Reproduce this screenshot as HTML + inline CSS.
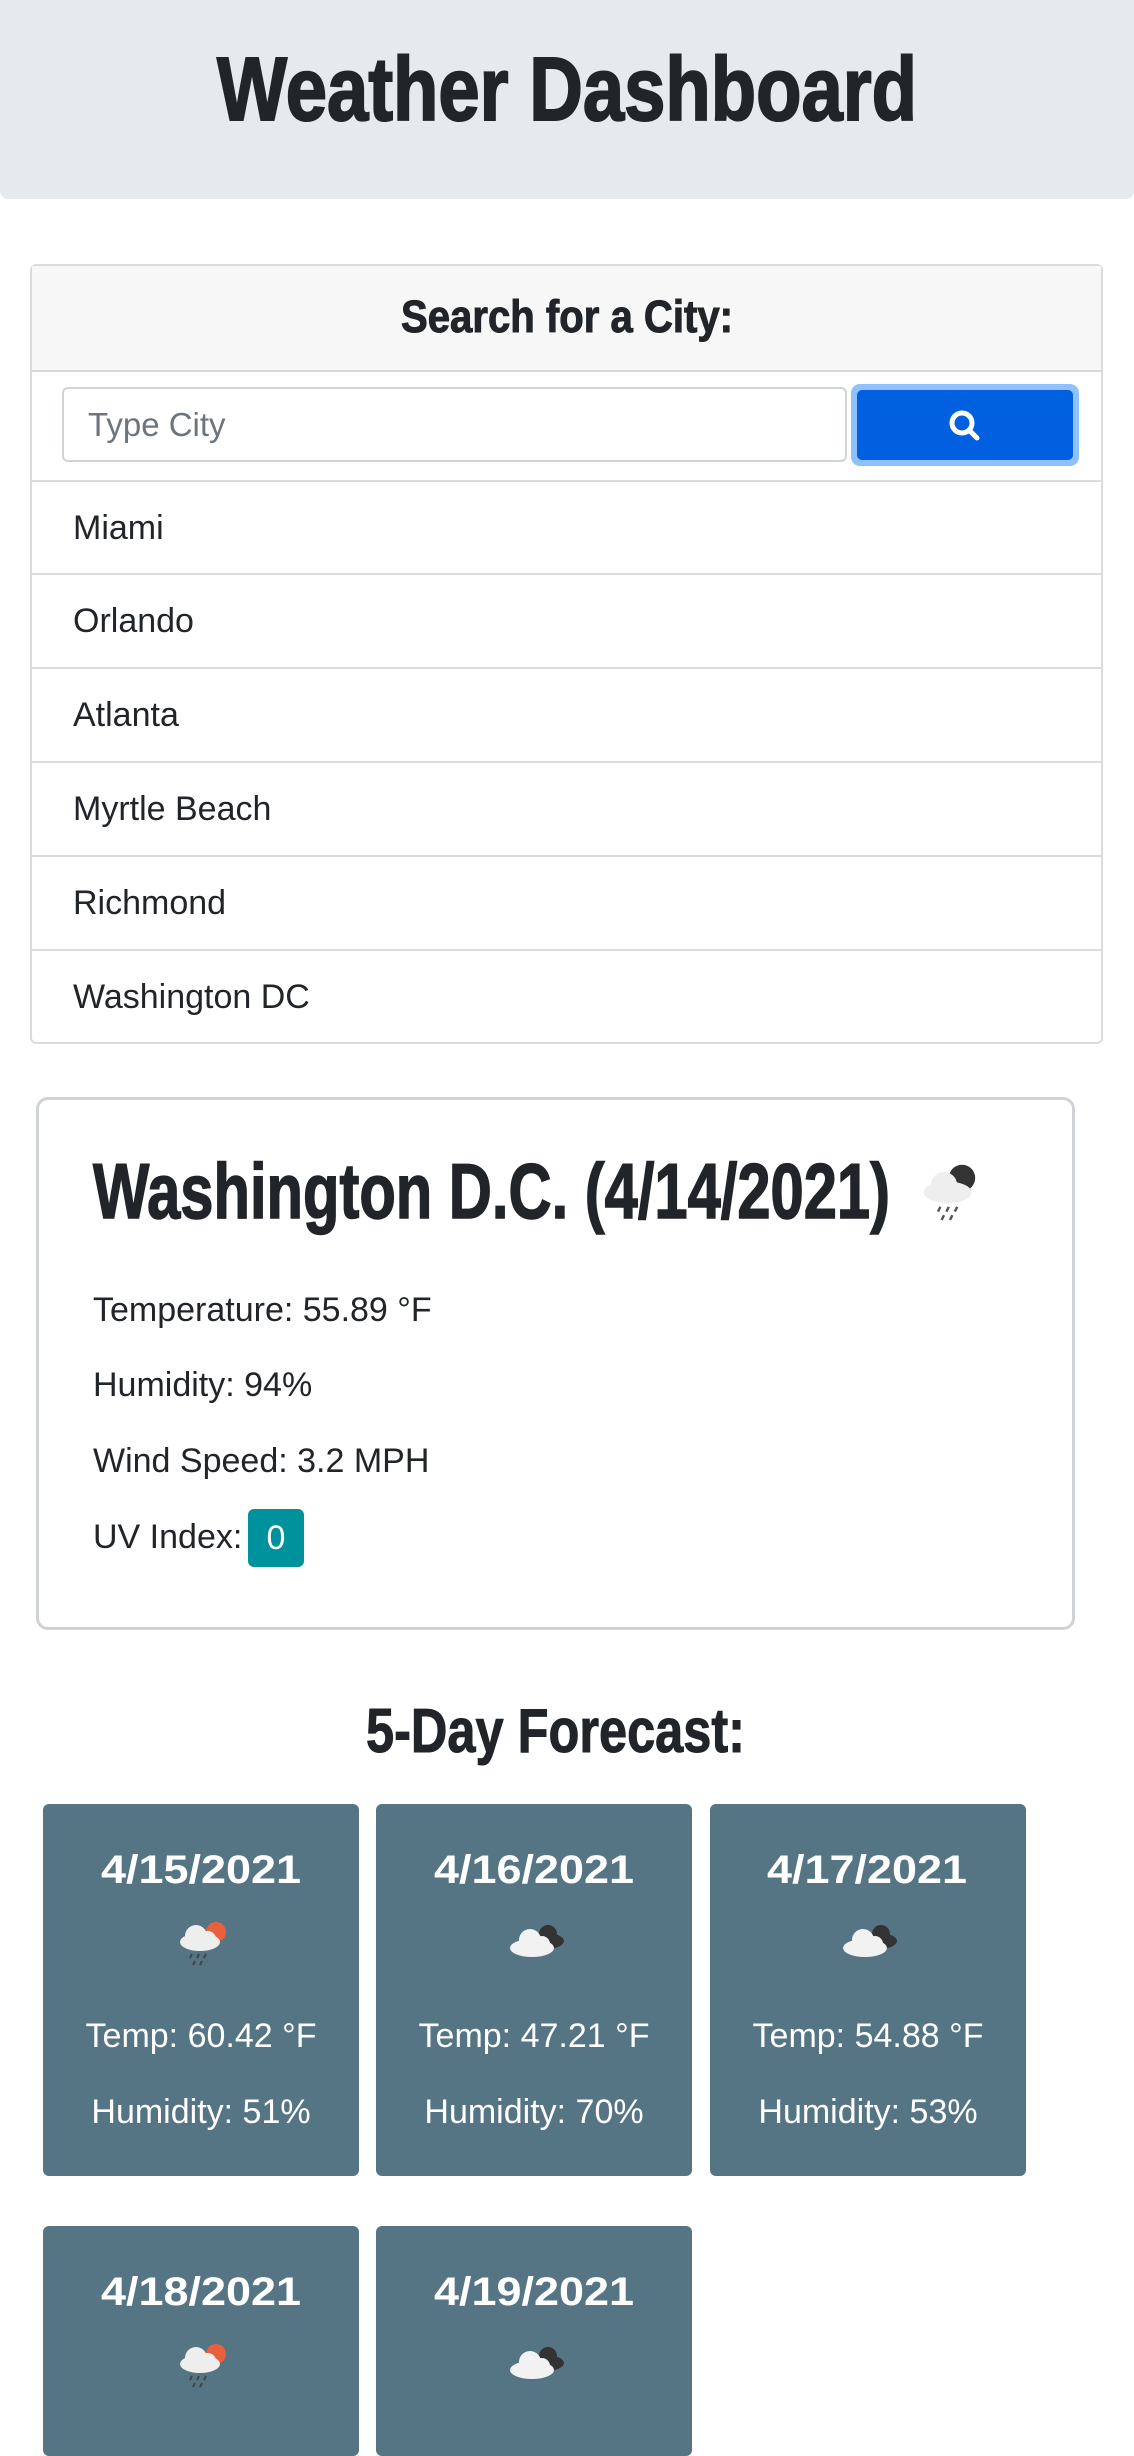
<!DOCTYPE html>
<html><head><meta charset="utf-8"><style>
body{margin:0;width:1134px;height:2434px;background:#fff;position:relative;overflow:hidden;font-family:"Liberation Sans",sans-serif;color:#212529}
.abs{position:absolute}
.li{position:absolute;left:31px;width:1071px;height:93px;border-top:2px solid #dcdcdc;font-size:34px;line-height:93px;padding-left:42px;box-sizing:border-box}
.txt{position:absolute;left:93px;font-size:34px}
.fc{position:absolute;background:#557585;border-radius:6px;width:316px}
.fc .t{position:absolute;left:0;width:100%;text-align:center;color:#fff;font-size:34px}
svg text{font-family:"Liberation Sans",sans-serif;font-weight:bold;fill:#212529}
</style></head><body>
<div class="abs" style="left:0;top:0;width:1134px;height:199px;background:#e6e9ed;border-radius:0 0 8px 8px"></div>
<svg class="abs" style="left:0;top:0" width="1134" height="2434">
<text x="217" y="120" font-size="90" textLength="700" lengthAdjust="spacingAndGlyphs" stroke="#212529" stroke-width="2">Weather Dashboard</text>
</svg>

<div class="abs" style="left:30px;top:264px;width:1073px;height:780px;border:2px solid #dcdcdc;border-radius:6px;box-sizing:border-box"></div>
<div class="abs" style="left:32px;top:266px;width:1069px;height:104px;background:#f7f7f7;border-bottom:2px solid #d8d8d8"></div>
<div class="abs" style="left:62px;top:387px;width:785px;height:75px;border:2px solid #ced4da;border-radius:6px;box-sizing:border-box;font-size:33px;color:#6c757d;line-height:71px;padding-left:24px">Type City</div>
<div class="abs" style="left:851px;top:384px;width:228px;height:82px;background:#8fc1ff;border-radius:9px"></div>
<div class="abs" style="left:857px;top:390px;width:216px;height:70px;background:#0060df;border-radius:5px">
<svg width="216" height="70"><circle cx="105" cy="33" r="10" fill="none" stroke="#fff" stroke-width="5"/><line x1="112" y1="40" x2="120" y2="48" stroke="#fff" stroke-width="5" stroke-linecap="round"/></svg></div>
<div class="li" style="top:480px">Miami</div>
<div class="li" style="top:573px">Orlando</div>
<div class="li" style="top:667px">Atlanta</div>
<div class="li" style="top:761px">Myrtle Beach</div>
<div class="li" style="top:855px">Richmond</div>
<div class="li" style="top:949px">Washington DC</div>

<div class="abs" style="left:36px;top:1097px;width:1039px;height:533px;border:3px solid #d0d3d6;border-radius:12px;box-sizing:border-box"></div>
<div class="txt" style="top:1291px">Temperature: 55.89 °F</div>
<div class="txt" style="top:1366px">Humidity: 94%</div>
<div class="txt" style="top:1442px">Wind Speed: 3.2 MPH</div>
<div class="txt" style="top:1518px">UV Index:</div>
<div class="abs" style="left:248px;top:1509px;width:56px;height:58px;background:#00929c;border-radius:6px;color:#fff;font-size:34px;text-align:center;line-height:58px">0</div>

<div class="fc" style="left:43px;top:1804px;height:372px"></div>
<div class="fc" style="left:376px;top:1804px;height:372px"></div>
<div class="fc" style="left:710px;top:1804px;height:372px"></div>
<div class="fc" style="left:43px;top:2226px;height:230px"></div>
<div class="fc" style="left:376px;top:2226px;height:230px"></div>

<div class="fc" style="left:43px;top:1804px;height:0;background:none">
<div class="t" style="top:213px">Temp: 60.42 °F</div>
<div class="t" style="top:289px">Humidity: 51%</div></div>
<div class="fc" style="left:376px;top:1804px;height:0;background:none">
<div class="t" style="top:213px">Temp: 47.21 °F</div>
<div class="t" style="top:289px">Humidity: 70%</div></div>
<div class="fc" style="left:710px;top:1804px;height:0;background:none">
<div class="t" style="top:213px">Temp: 54.88 °F</div>
<div class="t" style="top:289px">Humidity: 53%</div></div>

<svg class="abs" style="left:0;top:0" width="1134" height="2434">
<defs>
<g id="rainsun"><circle cx="16" cy="-8" r="10" fill="#e8613c"/><ellipse cx="0" cy="2" rx="20" ry="9" fill="#eee"/><circle cx="-4" cy="-4" r="11" fill="#eee"/><circle cx="8" cy="-1" r="8" fill="#eee"/><g stroke="#444" stroke-width="2"><line x1="-8" y1="14" x2="-10" y2="18"/><line x1="-1" y1="14" x2="-3" y2="18"/><line x1="6" y1="14" x2="4" y2="18"/><line x1="-5" y1="21" x2="-7" y2="25"/><line x1="2" y1="21" x2="0" y2="25"/></g></g>
<g id="clouds"><ellipse cx="10" cy="-3" rx="18" ry="8" fill="#333"/><circle cx="12" cy="-10" r="9" fill="#333"/><ellipse cx="-4" cy="4" rx="22" ry="9" fill="#f2f2f2"/><circle cx="-6" cy="-4" r="11" fill="#f2f2f2"/><circle cx="6" cy="0" r="8" fill="#f2f2f2"/></g>
</defs>
<text x="401" y="332" font-size="45" textLength="332" lengthAdjust="spacingAndGlyphs" stroke="#212529" stroke-width="1">Search for a City:</text>
<text x="93" y="1218" font-size="78" textLength="797" lengthAdjust="spacingAndGlyphs" stroke="#212529" stroke-width="1.5">Washington D.C. (4/14/2021)</text>
<g transform="translate(950,1190) scale(1.2)">
<circle cx="10" cy="-10" r="11" fill="#333"/><ellipse cx="-2" cy="2" rx="20" ry="9" fill="#eee"/><circle cx="-5" cy="-4" r="11" fill="#eee"/>
<g stroke="#555" stroke-width="2"><line x1="-8" y1="14" x2="-10" y2="18"/><line x1="-1" y1="14" x2="-3" y2="18"/><line x1="6" y1="14" x2="4" y2="18"/><line x1="-5" y1="21" x2="-7" y2="25"/><line x1="2" y1="21" x2="0" y2="25"/></g></g>
<text x="366" y="1752" font-size="62" textLength="379" lengthAdjust="spacingAndGlyphs" stroke="#212529" stroke-width="1">5-Day Forecast:</text>
<text x="101" y="1883" font-size="40" textLength="200" lengthAdjust="spacingAndGlyphs" style="fill:#fff">4/15/2021</text>
<text x="434" y="1883" font-size="40" textLength="200" lengthAdjust="spacingAndGlyphs" style="fill:#fff">4/16/2021</text>
<text x="767" y="1883" font-size="40" textLength="200" lengthAdjust="spacingAndGlyphs" style="fill:#fff">4/17/2021</text>
<text x="101" y="2305" font-size="40" textLength="200" lengthAdjust="spacingAndGlyphs" style="fill:#fff">4/18/2021</text>
<text x="434" y="2305" font-size="40" textLength="200" lengthAdjust="spacingAndGlyphs" style="fill:#fff">4/19/2021</text>
<use href="#rainsun" x="200" y="1940"/>
<use href="#clouds" x="536" y="1944"/>
<use href="#clouds" x="869" y="1944"/>
<use href="#rainsun" x="200" y="2362"/>
<use href="#clouds" x="536" y="2366"/>
</svg>
</body></html>
